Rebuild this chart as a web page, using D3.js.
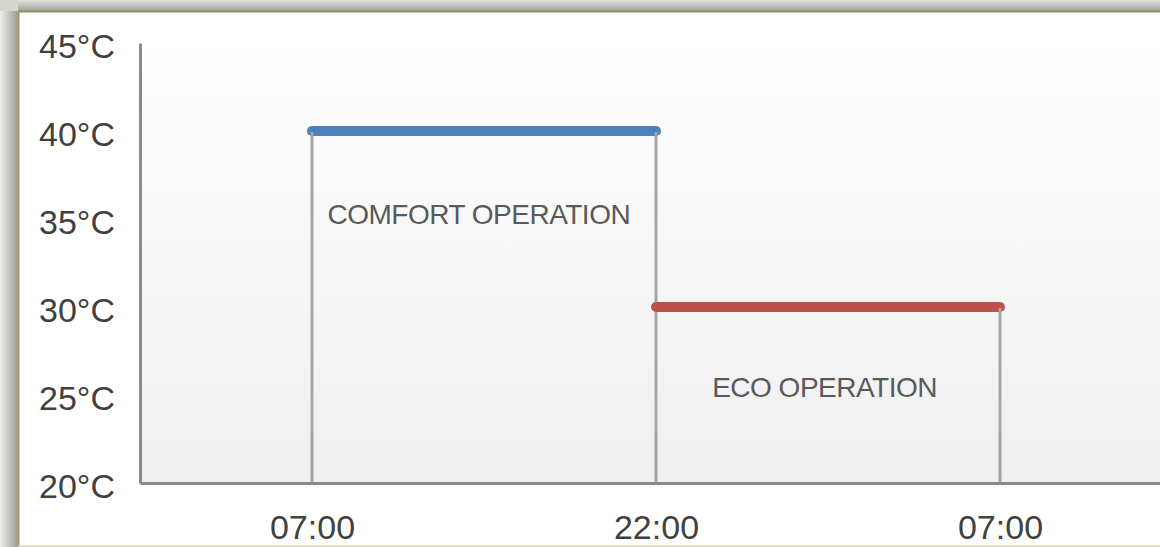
<!DOCTYPE html>
<html>
<head>
<meta charset="utf-8">
<script src="https://cdn.jsdelivr.net/npm/d3@7"></script>
<style>
  html, body { margin: 0; padding: 0; background: #fff; overflow: hidden; }
  svg { display: block; font-family: "Liberation Sans", Arial, sans-serif; }
</style>
</head>
<body>
<div id="chart"></div>
<script>
// time slots along the x axis (same label appears twice, so index them)
var slots = ["07:00", "22:00", "07:00"];
var tempTicks = [20, 25, 30, 35, 40, 45];

// set temperatures per operating mode: [start slot, end slot] and value
var comfortSlots = [0, 1];
var comfortTemp = [40, 40];
var ecoSlots = [1, 2];
var ecoTemp = [30, 30];

// drop lines under each slot
var dropTemps = [40, 40, 30];

var modeNames = ["COMFORT OPERATION", "ECO OPERATION"];
var modeNameSlot = [0.485, 1.49];
var modeNameTemp = [34.7, 24.9];

var width = 1160, height = 547;

var svg = d3.select("#chart")
    .append("svg")
    .attr("width", width)
    .attr("height", height);

var defs = svg.append("defs");

/* frame shadow, top and left */
var gTop = defs.append("linearGradient").attr("id", "shTop")
    .attr("x1", 0).attr("y1", 0).attr("x2", 0).attr("y2", 1);
gTop.append("stop").attr("offset", "0%").attr("stop-color", "#e2e2dc");
gTop.append("stop").attr("offset", "100%").attr("stop-color", "#a4a49c");

var gLeft = defs.append("linearGradient").attr("id", "shLeft")
    .attr("x1", 0).attr("y1", 0).attr("x2", 1).attr("y2", 0);
gLeft.append("stop").attr("offset", "0%").attr("stop-color", "#ededea");
gLeft.append("stop").attr("offset", "100%").attr("stop-color", "#9c9c94");

var gPlot = defs.append("linearGradient").attr("id", "plotBg")
    .attr("x1", 0).attr("y1", 0).attr("x2", 0).attr("y2", 1);
gPlot.append("stop").attr("offset", "0%").attr("stop-color", "#ffffff");
gPlot.append("stop").attr("offset", "100%").attr("stop-color", "#efefef");

svg.append("rect").attr("x", 0).attr("y", 0).attr("width", width).attr("height", 11)
    .attr("fill", "url(#shTop)");
svg.append("rect").attr("x", 0).attr("y", 0).attr("width", 18).attr("height", height)
    .attr("fill", "url(#shLeft)");
svg.append("rect").attr("x", 0).attr("y", 0).attr("width", 18).attr("height", 11)
    .attr("fill", "#d6d6d0");

// frame border
svg.append("line").attr("x1", 18).attr("x2", width).attr("y1", 11.5).attr("y2", 11.5)
    .attr("stroke", "#968c5c").attr("stroke-width", 2);
svg.append("line").attr("x1", 18.5).attr("x2", 18.5).attr("y1", 11).attr("y2", height)
    .attr("stroke", "#a39a66").attr("stroke-width", 2);
svg.append("line").attr("x1", 18).attr("x2", width).attr("y1", 546).attr("y2", 546)
    .attr("stroke", "#d9d5b9").attr("stroke-width", 1.5);

/* scales */
var x = d3.scalePoint()
    .domain(d3.range(slots.length))
    .range([140, 1172])
    .padding(0.5);

var y = d3.scaleLinear()
    .domain([20, 45])
    .range([483, 43]);

// plot area background
svg.append("rect")
    .attr("x", x.range()[0])
    .attr("y", y(45))
    .attr("width", x.range()[1] - x.range()[0])
    .attr("height", y(20) - y(45))
    .attr("fill", "url(#plotBg)");

/* axes */
var yAxis = d3.axisLeft(y)
    .tickValues(tempTicks)
    .tickFormat(function(d){ return d + "°C"; })
    .tickSize(0)
    .tickPadding(25);

var yg = svg.append("g")
    .attr("transform", "translate(" + x.range()[0] + ",0)")
    .call(yAxis);
yg.select(".domain").attr("stroke", "#8a8a8a").attr("stroke-width", 3);
yg.selectAll("text")
    .attr("fill", "#404040")
    .attr("font-size", 34)
    .attr("font-family", "Liberation Sans, Arial, sans-serif")
    .attr("dy", "0.44em");

var xAxis = d3.axisBottom(x)
    .tickFormat(function(i){ return slots[i]; })
    .tickSize(0)
    .tickPadding(32);

// drop lines under the set points
svg.append("g").selectAll("line")
    .data(dropTemps)
    .enter()
    .append("line")
    .attr("x1", function(d, i){ return x(i); })
    .attr("x2", function(d, i){ return x(i); })
    .attr("y1", function(d){ return y(d); })
    .attr("y2", y(20))
    .attr("stroke", "#a5a5a5")
    .attr("stroke-width", 3);

var xg = svg.append("g")
    .attr("transform", "translate(0," + y(20) + ")")
    .call(xAxis);
xg.select(".domain").attr("stroke", "#8a8a8a").attr("stroke-width", 3);
xg.selectAll("text")
    .attr("fill", "#404040")
    .attr("font-size", 34)
    .attr("font-family", "Liberation Sans, Arial, sans-serif");

/* mode lines */
var line = d3.line()
    .x(function(d){ return x(d[0]); })
    .y(function(d){ return y(d[1]); });

svg.append("path")
    .datum(d3.zip(comfortSlots, comfortTemp))
    .attr("d", line)
    .attr("fill", "none")
    .attr("stroke", "#4f81bd")
    .attr("stroke-width", 10)
    .attr("stroke-linecap", "round");

svg.append("path")
    .datum(d3.zip(ecoSlots, ecoTemp))
    .attr("d", line)
    .attr("fill", "none")
    .attr("stroke", "#c0504d")
    .attr("stroke-width", 10)
    .attr("stroke-linecap", "round");

// drop line tops sit over the coloured bars
svg.append("g").selectAll("line")
    .data(dropTemps)
    .enter()
    .append("line")
    .attr("x1", function(d, i){ return x(i); })
    .attr("x2", function(d, i){ return x(i); })
    .attr("y1", function(d){ return y(d) + 1; })
    .attr("y2", function(d){ return y(d) + 6; })
    .attr("stroke", "#a5a5a5")
    .attr("stroke-width", 3);

/* mode names */
svg.append("g").selectAll("text")
    .data(modeNames)
    .enter()
    .append("text")
    .attr("x", function(d, i){ return x(0) + (x(1) - x(0)) * modeNameSlot[i]; })
    .attr("y", function(d, i){ return y(modeNameTemp[i]); })
    .attr("text-anchor", "middle")
    .attr("font-size", 28)
    .attr("letter-spacing", -0.5)
    .attr("fill", "#595959")
    .text(function(d){ return d; });
</script>
</body>
</html>
